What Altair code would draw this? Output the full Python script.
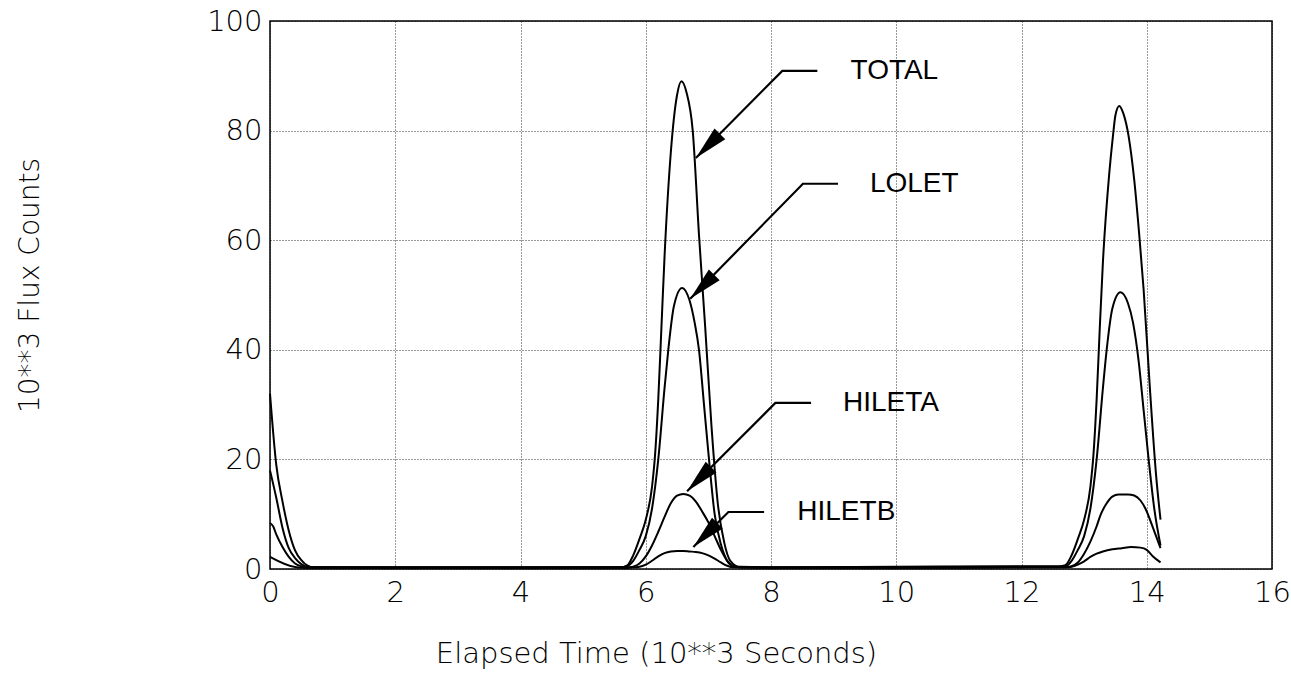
import altair as alt
import pandas as pd

# ---- series data (time in 10**3 s, flux in 10**3 counts) ----
t_total = [0, 0.1, 0.2, 0.3, 0.4, 0.5, 0.6, 0.7, 0.8, 2, 4, 5.6, 5.7, 5.8, 5.9, 6.0, 6.1, 6.15, 6.2, 6.25,
           6.3, 6.4, 6.5, 6.57, 6.65, 6.75, 6.85, 6.95, 7.05, 7.15, 7.25, 7.35, 7.5, 8, 10, 12, 12.6,
           12.7, 12.8, 12.9, 13.0, 13.1, 13.15, 13.2, 13.25, 13.3, 13.4, 13.46, 13.5, 13.56, 13.63,
           13.71, 13.8, 13.88, 13.95, 14.05, 14.15, 14.22]
v_total = [32, 19, 12.3, 7, 3.4, 1.6, 0.6, 0.3, 0.3, 0.3, 0.3, 0.3, 0.6, 2.5, 5.5, 9, 15, 21, 31, 44,
           57, 76, 86.5, 89, 87, 80, 61, 44, 26, 12, 5, 1.5, 0.4, 0.3, 0.4, 0.5, 0.5,
           0.7, 2.5, 5.5, 9, 15, 21, 31, 44, 56, 72, 79, 82.8, 84.5, 83,
           79, 71, 61, 51, 33, 17, 9]

t_lolet = [0, 0.1, 0.2, 0.3, 0.4, 0.5, 0.6, 0.7, 2, 4, 5.6, 5.7, 5.8, 5.9, 6.0, 6.1, 6.2, 6.3, 6.36, 6.45,
           6.58, 6.7, 6.78, 6.85, 6.93, 7.01, 7.1, 7.2, 7.3, 7.4, 7.5, 8, 10, 12, 12.6, 12.7, 12.8,
           12.9, 13.0, 13.1, 13.2, 13.3, 13.36, 13.45, 13.58, 13.7, 13.78, 13.87, 13.95, 14.03, 14.12,
           14.22]
v_lolet = [18, 13, 7.5, 3.8, 2.0, 0.9, 0.4, 0.3, 0.3, 0.3, 0.3, 0.5, 1.5, 3.5, 6, 11, 20, 33, 40, 48,
           51.3, 49, 45, 40, 30, 20, 10, 4.5, 1.5, 0.5, 0.3, 0.3, 0.3, 0.4, 0.4, 0.5, 1.5,
           3.5, 6, 11, 20, 33, 40, 47.5, 50.5, 48.5, 45, 38, 29, 20, 11,
           4.3]

t_hileta = [0, 0.05, 0.1, 0.2, 0.3, 0.4, 0.5, 0.6, 2, 4, 5.7, 5.8, 5.9, 6.0, 6.1, 6.2, 6.3, 6.4, 6.5, 6.6,
            6.7, 6.8, 6.9, 7.0, 7.1, 7.2, 7.3, 7.4, 7.5, 8, 10, 12, 12.7, 12.8, 12.9, 13.0, 13.1, 13.2,
            13.26, 13.35, 13.45, 13.55, 13.7, 13.8, 13.9, 13.98, 14.1, 14.22]
v_hileta = [8.4, 7.8, 6.3, 4.0, 2.2, 1.0, 0.5, 0.3, 0.2, 0.2, 0.2, 0.4, 1, 2.3, 4.3, 6.8, 9.5, 12, 13.4, 13.7,
            13.4, 12.3, 10.5, 8.5, 6, 3.5, 1.5, 0.5, 0.3, 0.2, 0.2, 0.3, 0.3, 0.5, 1.2, 2.8, 5, 7.8,
            9.8, 11.8, 13.2, 13.6, 13.6, 13.4, 12.5, 11, 7.5, 3.8]

t_hiletb = [0, 0.42, 0.6, 2, 4, 5.8, 5.9, 6.0, 6.1, 6.2, 6.3, 6.4, 6.5, 6.6, 6.7, 6.8, 6.9, 7.0, 7.1, 7.2,
            7.3, 7.4, 8, 10, 12, 12.7, 12.8, 12.9, 13.0, 13.1, 13.2, 13.3, 13.45, 13.6, 13.75, 13.9,
            14.0, 14.1, 14.22]
v_hiletb = [2.2, 0.3, 0.2, 0.2, 0.2, 0.3, 0.4, 0.8, 1.5, 2.3, 2.9, 3.2, 3.3, 3.3, 3.2, 3.1, 2.9, 2.5, 1.9, 1.2,
            0.6, 0.3, 0.2, 0.2, 0.3, 0.3, 0.4, 0.8, 1.4, 2.2, 2.8, 3.2, 3.6, 3.8, 4.0, 3.9,
            3.5, 2.3, 1.2]

# ---- annotation callouts ----
ann_labels = ["TOTAL", "LOLET", "HILETA", "HILETB"]
ann_tip_t = [6.80, 6.71, 6.66, 6.76]
ann_tip_v = [75.0, 49.3, 14.2, 4.0]
ann_corner_t = [8.18, 8.51, 8.07, 7.32]
ann_corner_v = [90.9, 70.3, 30.3, 10.4]
ann_end_t = [8.74, 9.07, 8.64, 7.89]
ann_text_t = [9.27, 9.58, 9.15, 8.42]

x_ticks = [0, 2, 4, 6, 8, 10, 12, 14, 16]
y_ticks = [0, 20, 40, 60, 80, 100]

rows = []
for name, ts, vs in [("TOTAL", t_total, v_total), ("LOLET", t_lolet, v_lolet),
                     ("HILETA", t_hileta, v_hileta), ("HILETB", t_hiletb, v_hiletb)]:
    for i, (t, v) in enumerate(zip(ts, vs)):
        rows.append({"series": name, "t": t, "v": v, "i": i})
df = pd.DataFrame(rows)

lead_rows = []
for k, lab in enumerate(ann_labels):
    lead_rows.append({"label": lab, "o": 0, "t": ann_tip_t[k], "v": ann_tip_v[k]})
    lead_rows.append({"label": lab, "o": 1, "t": ann_corner_t[k], "v": ann_corner_v[k]})
    lead_rows.append({"label": lab, "o": 2, "t": ann_end_t[k], "v": ann_corner_v[k]})
lead = pd.DataFrame(lead_rows)
tips = pd.DataFrame({"label": ann_labels, "t": ann_tip_t, "v": ann_tip_v})
texts = pd.DataFrame({"label": ann_labels, "t": ann_text_t, "v": ann_corner_v})

xscale = alt.Scale(domain=[0, 16], nice=False, zero=False)
yscale = alt.Scale(domain=[0, 100], nice=False)

tick_font = "DejaVu Sans"

xaxis = alt.Axis(values=x_ticks, title="Elapsed Time (10**3 Seconds)", grid=True, ticks=False,
                 domain=False, labelFont=tick_font, labelFontSize=29, labelFontWeight=200,
                 labelColor="black", labelPadding=9, labelFlush=False,
                 titleFont=tick_font, titleFontSize=29, titleFontWeight=200, titleColor="black",
                 titleX=386, titleY=84, titleBaseline="middle", titleAnchor="middle",
                 gridDash=[1, 2], gridColor="black", gridWidth=1, gridOpacity=0.8)
yaxis = alt.Axis(values=y_ticks, title="10**3 Flux Counts", grid=True, ticks=False,
                 domain=False, labelFont=tick_font, labelFontSize=29, labelFontWeight=200,
                 labelColor="black", labelPadding=8, labelFlush=False,
                 titleFont=tick_font, titleFontSize=28, titleFontWeight=200, titleColor="black",
                 titleX=-240, titleY=264, titleBaseline="middle", titleAnchor="middle",
                 gridDash=[1, 2], gridColor="black", gridWidth=1, gridOpacity=0.8)

X = alt.X("t:Q", scale=xscale, axis=xaxis)
Y = alt.Y("v:Q", scale=yscale, axis=yaxis)

lines = alt.Chart(df).mark_line(color="black", strokeWidth=2, interpolate="monotone").encode(
    x=X, y=Y, detail="series:N", order="i:Q",
)

leaders = alt.Chart(lead).mark_line(color="black", strokeWidth=2.2).encode(
    x=X, y=Y, detail="label:N", order="o:Q",
)

heads = alt.Chart(tips).mark_point(
    shape="M 0 0 L -2 -0.45 L -2 0.45 Z", filled=True, size=1156, angle=135,
    color="black", opacity=1, strokeWidth=0,
).encode(x=X, y=Y)

labels = alt.Chart(texts).mark_text(
    align="left", baseline="middle", font="Liberation Sans", fontSize=28, color="black",
).encode(x=X, y=Y, text="label:N")

chart = alt.layer(lines, leaders, heads, labels).properties(
    width=1002, height=548,
    autosize=alt.AutoSizeParams(type="none"),
    padding={"left": 270, "top": 21, "right": 19, "bottom": 110},
    background="white",
).configure_view(stroke="black", strokeWidth=1.5)

chart.save("out.html", embed_options={"renderer": "svg", "actions": False})
